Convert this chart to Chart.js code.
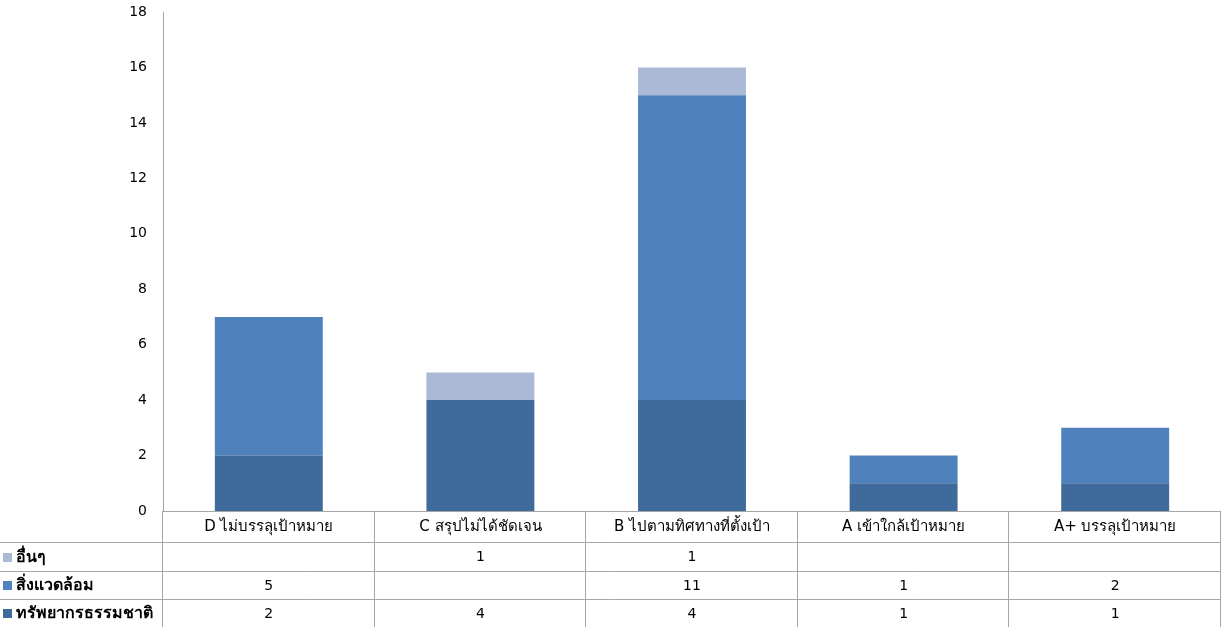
<!DOCTYPE html>
<html>
<head>
<meta charset="utf-8">
<script src="https://cdn.jsdelivr.net/npm/chart.js@4/dist/chart.umd.min.js"></script>
<style>
  html, body { margin: 0; padding: 0; background: #fff; }
  #wrap { width: 1222px; height: 627px; }
</style>
</head>
<body>
<div id="wrap"><canvas id="chart" width="1222" height="627"></canvas></div>
<script>
const categories = [
  "D ไม่บรรลุเป้าหมาย",
  "C สรุปไม่ได้ชัดเจน",
  "B ไปตามทิศทางที่ตั้งเป้า",
  "A เข้าใกล้เป้าหมาย",
  "A+ บรรลุเป้าหมาย"
];
const natural = [2, 4, 4, 1, 1];        // ทรัพยากรธรรมชาติ
const environment = [5, null, 11, 1, 2]; // สิ่งแวดล้อม
const others = [null, 1, 1, null, null]; // อื่นๆ
const yTicks = [0, 2, 4, 6, 8, 10, 12, 14, 16, 18];

const FONT = "Tahoma, 'DejaVu Sans', 'Noto Sans', sans-serif";
const LINE = "#a6a6a6";

const datasets = [
  { label: "ทรัพยากรธรรมชาติ", data: natural, backgroundColor: "#3f6a9c" },
  { label: "สิ่งแวดล้อม", data: environment, backgroundColor: "#4f81bd" },
  { label: "อื่นๆ", data: others, backgroundColor: "#aab9d6" }
];

// data table drawn under the plot, legend keys in the first column
const dataTable = {
  id: "dataTable",
  afterDraw(chart) {
    const { ctx, chartArea, scales } = chart;
    const x = scales.x;
    const top = chartArea.bottom;
    const rows = [top, top + 31, top + 60, top + 88, chart.height];
    const left = chartArea.left, right = chartArea.right;
    const n = categories.length;
    const colW = (right - left) / n;

    ctx.save();
    ctx.strokeStyle = LINE;
    ctx.lineWidth = 1;
    // horizontal rules
    ctx.beginPath();
    ctx.moveTo(left, top + 0.5); ctx.lineTo(right, top + 0.5);
    for (let r = 1; r < 4; r++) {
      ctx.moveTo(0, Math.round(rows[r]) + 0.5);
      ctx.lineTo(right, Math.round(rows[r]) + 0.5);
    }
    // vertical rules
    for (let c = 0; c <= n; c++) {
      const cx = Math.round(left + c * colW) - 0.5;
      ctx.moveTo(cx, top);
      ctx.lineTo(cx, chart.height);
    }
    ctx.stroke();

    ctx.font = "15px " + FONT;
    ctx.fillStyle = "#000";
    ctx.textBaseline = "middle";
    ctx.textAlign = "center";
    categories.forEach((c, i) => {
      ctx.fillText(c, x.getPixelForValue(i), (rows[0] + rows[1]) / 2 + 1);
    });

    const tableRows = [datasets[2], datasets[1], datasets[0]];
    tableRows.forEach((ds, r) => {
      const cy = (rows[r + 1] + rows[r + 2]) / 2 + 1;
      ctx.fillStyle = ds.backgroundColor;
      ctx.fillRect(3, Math.round(cy - 5), 9, 9);
      ctx.fillStyle = "#000";
      ctx.textAlign = "left";
      ctx.font = "bold 16px " + FONT;
      ctx.fillText(ds.label, 16, cy);
      ctx.font = "14px " + FONT;
      ctx.textAlign = "center";
      ds.data.forEach((v, i) => {
        if (v != null) ctx.fillText(String(v), x.getPixelForValue(i), cy);
      });
    });
    ctx.restore();
  }
};

new Chart(document.getElementById("chart"), {
  type: "bar",
  data: { labels: categories, datasets },
  options: {
    responsive: false,
    animation: false,
    layout: { padding: { top: 12, bottom: 116, right: 1, left: 0 } },
    plugins: { legend: { display: false }, tooltip: { enabled: false } },
    datasets: { bar: { categoryPercentage: 1, barPercentage: 0.51 } },
    scales: {
      x: {
        stacked: true,
        grid: { display: false, drawTicks: false },
        border: { display: false },
        ticks: { display: false }
      },
      y: {
        stacked: true,
        min: 0,
        max: 18,
        afterFit(scale) {
          scale.width = 163;
          scale.paddingTop = 0;
          scale.paddingBottom = 0;
        },
        afterBuildTicks(scale) { scale.ticks = yTicks.map(v => ({ value: v })); },
        grid: { display: false, drawTicks: false },
        border: { display: true, color: LINE, width: 1 },
        ticks: { color: "#000", padding: 16, font: { family: FONT, size: 14 } }
      }
    }
  },
  plugins: [dataTable]
});
</script>
</body>
</html>
